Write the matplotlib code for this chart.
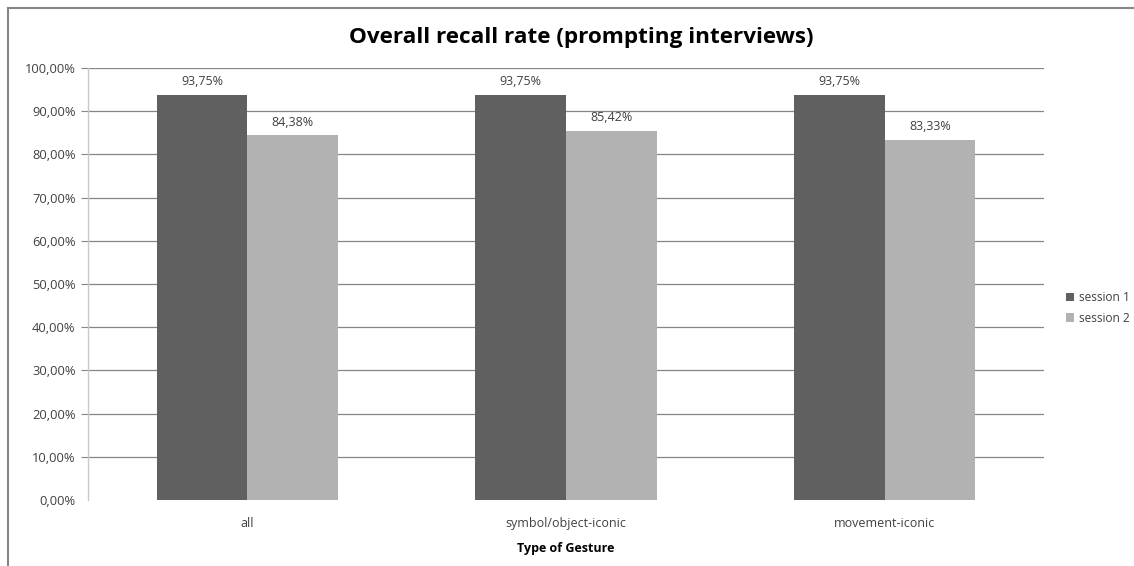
import matplotlib
matplotlib.use("Agg")
import matplotlib.pyplot as plt
import numpy as np
from matplotlib.lines import Line2D

categories = ["all", "symbol/object-iconic", "movement-iconic"]
session1 = [93.75, 93.75, 93.75]
session2 = [84.38, 85.42, 83.33]
series_names = ["session 1", "session 2"]
yticks = [0, 10, 20, 30, 40, 50, 60, 70, 80, 90, 100]

plt.rcParams['font.family'] = ['Open Sans', 'DejaVu Sans']

W, H = 1134, 566
fig = plt.figure(figsize=(W/100, H/100), dpi=100)
ax = fig.add_axes([88/W, 1-500/H, (1044-88)/W, (500-68)/H])

x = np.arange(len(categories))
bw = 0.285
c1, c2 = "#606060", "#b2b2b2"
b1 = ax.bar(x - bw/2, session1, bw, color=c1, label=series_names[0], zorder=3)
b2 = ax.bar(x + bw/2, session2, bw, color=c2, label=series_names[1], zorder=3)

def fmt(v):
    return f"{v:.2f}%".replace(".", ",")

for bars, vals in ((b1, session1), (b2, session2)):
    for r, v in zip(bars, vals):
        ax.annotate(fmt(v), (r.get_x() + r.get_width()/2, v), xytext=(0, 5),
                    textcoords="offset points", ha="center", va="bottom",
                    fontsize=9, color="#404040")

ax.set_xlim(-0.5, 2.5)
ax.set_ylim(0, 100)
ax.set_yticks(yticks)
ax.set_yticklabels([fmt(v) for v in yticks], fontsize=9.3, color="#404040")
ax.set_xticks(x)
ax.set_xticklabels(categories, fontsize=9, color="#404040")
ax.tick_params(axis="x", length=0, pad=12)
ax.tick_params(axis="y", length=5, color="#868686", pad=4)
ax.yaxis.grid(True, color="#868686", linewidth=0.9, zorder=0)
# no gridline/tick at 0
gl = ax.get_ygridlines()
gl[0].set_visible(False)
ax.yaxis.get_major_ticks()[0].tick1line.set_visible(False)
for s in ["top", "right", "bottom"]:
    ax.spines[s].set_visible(False)
ax.spines["left"].set_color("#c8c8c8")
ax.spines["left"].set_linewidth(1.0)
ax.set_xlabel("Type of Gesture", fontsize=9, fontweight="bold", labelpad=9)

fig.text(581/W, 1-37/H, "Overall recall rate (prompting interviews)",
         ha="center", va="center", fontsize=16.2, fontweight="bold")

ax.legend(loc="center left", bbox_to_anchor=(1055/W, 1-308/H),
          bbox_transform=fig.transFigure, frameon=False, fontsize=8.6,
          handlelength=0.7, handleheight=0.7, handletextpad=0.4, labelspacing=0.6,
          labelcolor="#404040")

# outer frame
fig.add_artist(Line2D([8/W, 8/W], [0, 1-8/H], transform=fig.transFigure, color="#868686", linewidth=1.5))
fig.add_artist(Line2D([8/W, 1], [1-8/H, 1-8/H], transform=fig.transFigure, color="#868686", linewidth=1.5))

fig.savefig("out.png", dpi=100)
